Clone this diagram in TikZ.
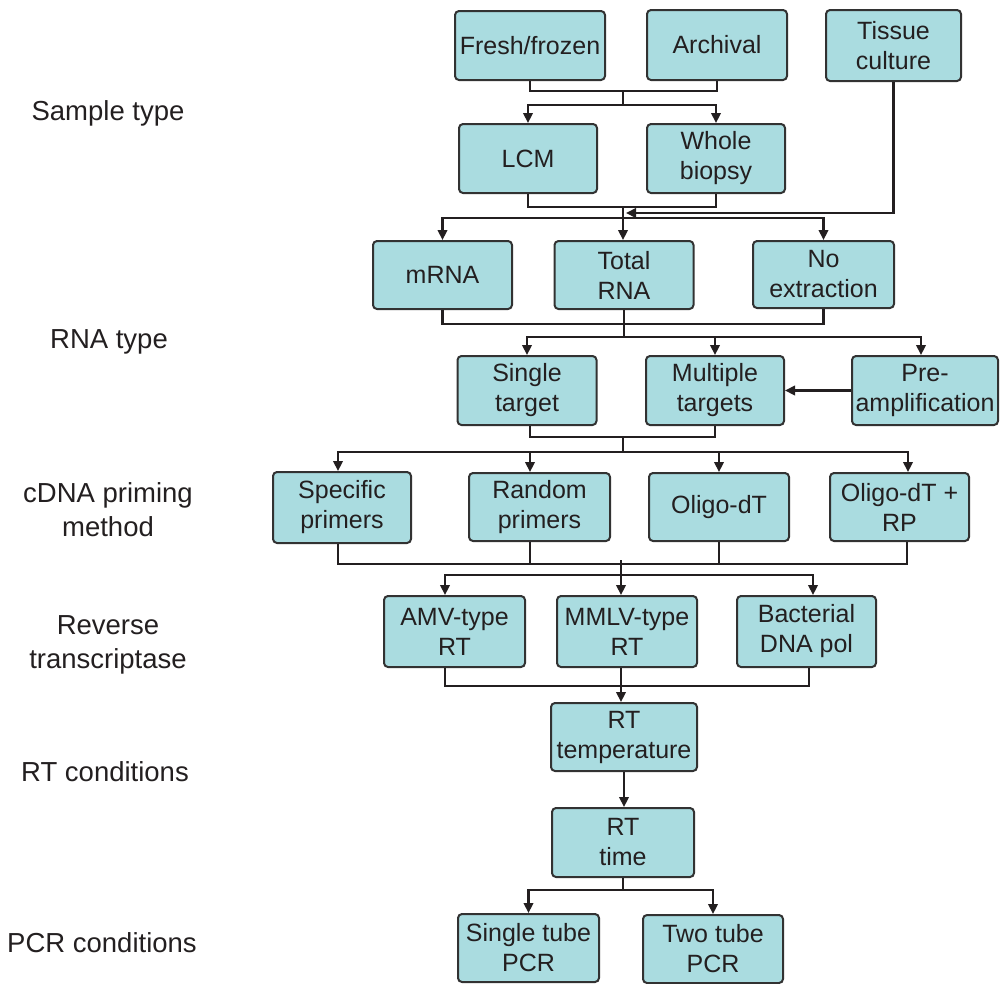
\documentclass[tikz,border=0pt]{standalone}
\usepackage{fontspec}
\setmainfont{Liberation Sans}
\usetikzlibrary{arrows.meta}
\definecolor{boxfill}{RGB}{170,220,224}
\definecolor{boxline}{RGB}{50,50,50}
\definecolor{txt}{RGB}{35,31,32}
\tikzset{
  box/.style={draw=boxline, fill=boxfill, line width=2pt, rounded corners=4pt,
    inner sep=0pt, align=center, text=txt,
    font=\fontsize{25}{30}\selectfont},
  lab/.style={align=center, text=txt, inner sep=0pt,
    font=\fontsize{27.5}{34}\selectfont},
  conn/.style={draw=txt, line width=2.2pt},
  arr/.style={conn, -{Triangle[length=10pt,width=9.5pt]}}
}
\begin{document}
\begin{tikzpicture}[x=1pt,y=-1pt]
\useasboundingbox (0,0) rectangle (1000,983);

% labels
\node[lab] (l1) at (108,113) {Sample type};
\node[lab] (l2) at (109,342) {RNA type};
\node[lab] (l3) at (108,510) {cDNA priming\\method};
\node[lab] (l4) at (108,645) {Reverse\\transcriptase};
\node[lab] (l5) at (105,772) {RT conditions};
\node[lab] (l6) at (102,943) {PCR conditions};

% boxes
\node[box, minimum width=150, minimum height=69] (ff) at (530,45.5) {Fresh/frozen};
\node[box, minimum width=140, minimum height=70] (ar) at (717,45) {Archival};
\node[box, minimum width=135, minimum height=71] (tc) at (893.5,45.5) {Tissue\\culture};
\node[box, minimum width=138, minimum height=69] (lcm) at (528,158.5) {LCM};
\node[box, minimum width=138, minimum height=69] (wb) at (716,158.5) {Whole\\biopsy};
\node[box, minimum width=139, minimum height=68] (mrna) at (442.5,275) {mRNA};
\node[box, minimum width=139, minimum height=68] (trna) at (624,275) {Total\\RNA};
\node[box, minimum width=141, minimum height=67] (noext) at (823.5,274.5) {No\\extraction};
\node[box, minimum width=139, minimum height=69] (single) at (527,390.5) {Single\\target};
\node[box, minimum width=138, minimum height=69] (multi) at (715,390.5) {Multiple\\targets};
\node[box, minimum width=146, minimum height=69] (pre) at (925,390.5) {Pre-\\amplification};
\node[box, minimum width=138, minimum height=71] (spec) at (342,507.5) {Specific\\primers};
\node[box, minimum width=141, minimum height=68] (rand) at (539.5,507) {Random\\primers};
\node[box, minimum width=140, minimum height=68] (oligo) at (719,507) {Oligo-dT};
\node[box, minimum width=139, minimum height=68] (oplus) at (899.5,507) {Oligo-dT +\\RP};
\node[box, minimum width=141, minimum height=71] (amv) at (454.5,631.5) {AMV-type\\RT};
\node[box, minimum width=140, minimum height=71] (mmlv) at (627,631.5) {MMLV-type\\RT};
\node[box, minimum width=139, minimum height=71] (bact) at (806.5,631.5) {Bacterial\\DNA pol};
\node[box, minimum width=146, minimum height=68] (rttemp) at (624,737) {RT\\temperature};
\node[box, minimum width=142, minimum height=69] (rttime) at (623,842.5) {RT\\time};
\node[box, minimum width=141, minimum height=68] (stube) at (528.5,948) {Single tube\\PCR};
\node[box, minimum width=140, minimum height=68] (ttube) at (713,949) {Two tube\\PCR};

% junction coordinates
\coordinate (j1) at (623,91);
\coordinate (j2) at (623,105);
\coordinate (j3) at (623,207);
\coordinate (j4) at (623,218);
\coordinate (tcend) at (626,213);
\coordinate (j5) at (624,324);
\coordinate (j6) at (624,337);
\coordinate (j7) at (623,437);
\coordinate (j8) at (623,452);
\coordinate (j9top) at (621,560);
\coordinate (j9) at (621,564);
\coordinate (j10) at (621,575);
\coordinate (j11) at (621,686);
\coordinate (j12) at (623,890);

% shifted anchor points
\coordinate (singleb) at ([xshift=3pt]single.south);
\coordinate (specn) at ([xshift=-4pt]spec.north);
\coordinate (specb) at ([xshift=-4pt]spec.south);
\coordinate (randn) at ([xshift=-9.5pt]rand.north);
\coordinate (randb) at ([xshift=-9.5pt]rand.south);
\coordinate (oplusn) at ([xshift=8.5pt]oplus.north);
\coordinate (oplusb) at ([xshift=7.5pt]oplus.south);
\coordinate (amvn) at ([xshift=-9.5pt]amv.north);
\coordinate (amvb) at ([xshift=-9.5pt]amv.south);
\coordinate (mmlvn) at ([xshift=-6pt]mmlv.north);
\coordinate (mmlvb) at ([xshift=-6pt]mmlv.south);
\coordinate (bactn) at ([xshift=6.5pt]bact.north);
\coordinate (bactb) at ([xshift=2.5pt]bact.south);
\coordinate (pren) at ([xshift=-4pt]pre.north);

% sample type
\draw[conn] (ff.south) |- (j1) -| (ar.south);
\draw[conn] (j1) -- (j2);
\draw[arr] (j2) -| (lcm.north);
\draw[arr] (j2) -| (wb.north);
\draw[conn] (lcm.south) |- (j3) -| (wb.south);
\draw[conn] (j3) -- (j4);
\draw[arr] (tc.south) |- (tcend);

% RNA type
\draw[arr] (j4) -| (mrna.north);
\draw[arr] (j4) -- (j4 |- trna.north);
\draw[arr] (j4) -| (noext.north);
\draw[conn] (mrna.south) |- (j5) -| (noext.south);
\draw[conn] (trna.south) -- (j5) -- (j6);
\draw[arr] (j6) -| (single.north);
\draw[arr] (j6) -| (multi.north);
\draw[arr] (j6) -| (pren);
\draw[arr] (pre.west) -- (multi.east);

% priming
\draw[conn] (singleb) |- (j7) -| (multi.south);
\draw[conn] (j7) -- (j8);
\draw[arr] (j8) -| (specn);
\draw[arr] (j8) -| (randn);
\draw[arr] (j8) -| (oligo.north);
\draw[arr] (j8) -| (oplusn);
\draw[conn] (specb) |- (j9) -| (oplusb);
\draw[conn] (randb) -- (randb |- j9);
\draw[conn] (oligo.south) -- (oligo.south |- j9);
\draw[conn] (j9top) -- (j10);

% reverse transcriptase
\draw[arr] (j10) -| (amvn);
\draw[arr] (j10) -- (mmlvn);
\draw[arr] (j10) -| (bactn);
\draw[conn] (amvb) |- (j11) -| (bactb);
\draw[arr] (mmlvb) -- (mmlvb |- rttemp.north);

% RT conditions
\draw[arr] (rttemp.south) -- (rttemp.south |- rttime.north);
\draw[conn] (rttime.south) -- (j12);
\draw[arr] (j12) -| (stube.north);
\draw[arr] (j12) -| (ttube.north);
\end{tikzpicture}
\end{document}
